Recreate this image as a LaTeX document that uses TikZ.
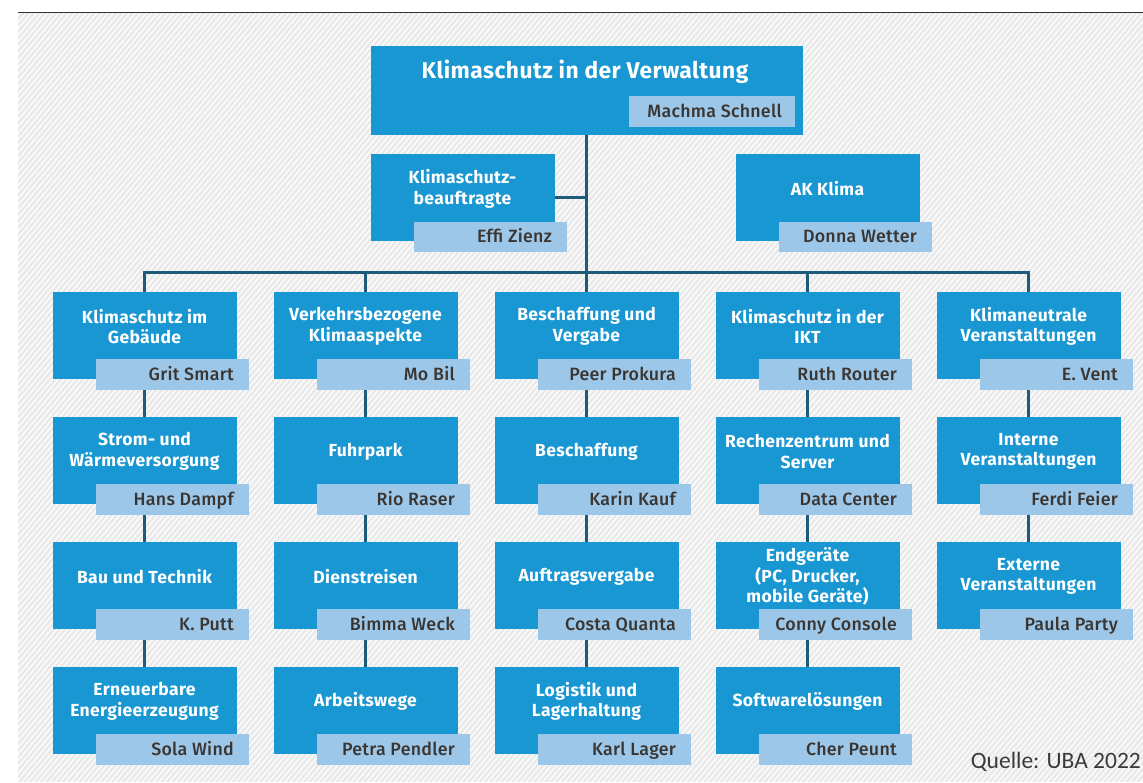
\documentclass[tikz,border=0pt]{standalone}
\usepackage{fontspec}
\setmainfont{Fira Sans}[LetterSpace=2]
\newfontfamily\tagfont{Fira Sans Medium}[LetterSpace=1.5]
\newfontfamily\srcfont{Carlito}
\usetikzlibrary{patterns.meta}
\pgfdeclarelayer{bg}\pgfdeclarelayer{conn}
\pgfsetlayers{bg,conn,main}
\definecolor{boxblue}{HTML}{1897D3}
\definecolor{tagblue}{HTML}{9DC7E9}
\definecolor{connc}{HTML}{1E5B7B}
\definecolor{tagtextc}{HTML}{3A3530}
\definecolor{bggray}{HTML}{E9E9E9}
\definecolor{stripe}{HTML}{FDFDFD}
\definecolor{topline}{HTML}{3B2F26}
\definecolor{srctext}{HTML}{3A3A3A}
\tikzset{
 box/.style={fill=boxblue, draw=none, minimum width=184pt, minimum height=87pt, inner sep=0pt, outer sep=0pt},
 boxtext/.style={text=white, font=\bfseries\fontsize{17.5}{20.5}\selectfont, align=center, inner sep=0pt},
 tag/.style={fill=tagblue, draw=none, minimum width=153pt, minimum height=30.5pt, inner sep=0pt, outer sep=0pt},
 tagtext/.style={text=tagtextc, font=\tagfont\fontsize{17.8}{20}\selectfont, inner sep=0pt, text height=12.5pt, text depth=0.5pt},
 conn/.style={draw=connc, line width=3pt},
}
\newcommand\orgunit[5]{%
 \node[box] (#1) at ({#2+92},{#3+43.5}) {};
 \node[boxtext] (#1-t) at ({#2+92},{#3+35}) {#4};
 \node[tag] (#1-n) at ({#2+120},{#3+82.75}) {};
 \node[tagtext, anchor=east] (#1-nt) at ([xshift=-15pt]#1-n.east) {#5};
}
\begin{document}
\begin{tikzpicture}[x=1pt,y=-1pt]
\useasboundingbox (0,0) rectangle (1143,782);
\begin{pgfonlayer}{bg}
\fill[bggray] (18,13) rectangle (1143,782);
\fill[pattern={Lines[angle=50,distance=4.2pt,line width=1.4pt]}, pattern color=stripe] (18,13) rectangle (1143,782);
\draw[topline, line width=1.5pt] (18,12.5) -- (1143,12.5);
\end{pgfonlayer}

% top
\node[box, minimum width=432pt, minimum height=89pt] (top) at (586.5,90.5) {};
\node[boxtext, font=\bfseries\fontsize{22.8}{26}\selectfont] (top-t) at (585,71.5) {Klimaschutz in der Verwaltung};
\node[tag, minimum width=166pt, minimum height=31pt] (top-n) at (712,111.75) {};
\node[tagtext, anchor=east] (top-nt) at ([xshift=-13pt]top-n.east) {Machma Schnell};

\orgunit{kb}{370.5}{154}{Klimaschutz-\\beauftragte}{Ef{}fi Zienz}
\orgunit{ak}{735.5}{154}{AK Klima}{Donna Wetter}

% column 1
\orgunit{c1r1}{52.5}{291.5}{Klimaschutz im\\Gebäude}{Grit Smart}
\orgunit{c1r2}{52.5}{416.5}{Strom- und\\Wärmeversorgung}{Hans Dampf}
\orgunit{c1r3}{52.5}{541.5}{Bau und Technik}{K. Putt}
\orgunit{c1r4}{52.5}{666.5}{Erneuerbare\\Energieerzeugung}{Sola Wind}
% column 2
\orgunit{c2r1}{273.5}{291.5}{Verkehrsbezogene\\Klimaaspekte}{Mo Bil}
\orgunit{c2r2}{273.5}{416.5}{Fuhrpark}{Rio Raser}
\orgunit{c2r3}{273.5}{541.5}{Dienstreisen}{Bimma Weck}
\orgunit{c2r4}{273.5}{666.5}{Arbeitswege}{Petra Pendler}
% column 3
\orgunit{c3r1}{494.5}{291.5}{Beschaffung und\\Vergabe}{Peer Prokura}
\orgunit{c3r2}{494.5}{416.5}{Beschaffung}{Karin Kauf}
\orgunit{c3r3}{494.5}{541.5}{Auftragsvergabe}{Costa Quanta}
\orgunit{c3r4}{494.5}{666.5}{Logistik und\\Lagerhaltung}{Karl Lager}
% column 4
\orgunit{c4r1}{715.5}{291.5}{Klimaschutz in der\\IKT}{Ruth Router}
\orgunit{c4r2}{715.5}{416.5}{Rechenzentrum und\\Server}{Data Center}
\orgunit{c4r3}{715.5}{541.5}{Endgeräte\\(PC, Drucker,\\mobile Geräte)}{Conny Console}
\orgunit{c4r4}{715.5}{666.5}{Softwarelösungen}{Cher Peunt}
% column 5
\orgunit{c5r1}{936.5}{291.5}{Klimaneutrale\\Veranstaltungen}{E. Vent}
\orgunit{c5r2}{936.5}{416.5}{Interne\\Veranstaltungen}{Ferdi Feier}
\orgunit{c5r3}{936.5}{541.5}{Externe\\Veranstaltungen}{Paula Party}

\begin{pgfonlayer}{conn}
\coordinate (bus) at (586.5,272.5);
\draw[conn] (top.south) -- (bus);
\draw[conn] (kb.east) -- (kb.east -| top.south);
\draw[conn] (c1r1.north) |- (bus) -| (c5r1.north);
\draw[conn] (c2r1.north) -- (c2r1.north |- bus);
\draw[conn] (bus) -- (c3r1.north);
\draw[conn] (c4r1.north) -- (c4r1.north |- bus);
\foreach \c in {1,2,3,4}{
  \draw[conn] (c\c r1.south) -- (c\c r2.north);
  \draw[conn] (c\c r2.south) -- (c\c r3.north);
  \draw[conn] (c\c r3.south) -- (c\c r4.north);
}
\draw[conn] (c5r1.south) -- (c5r2.north);
\draw[conn] (c5r2.south) -- (c5r3.north);
\end{pgfonlayer}

\node[font=\srcfont\fontsize{23.5}{26}\selectfont, text=srctext, anchor=east, inner sep=0pt] (src) at (1141,762) {Quelle: UBA 2022};
\end{tikzpicture}
\end{document}
